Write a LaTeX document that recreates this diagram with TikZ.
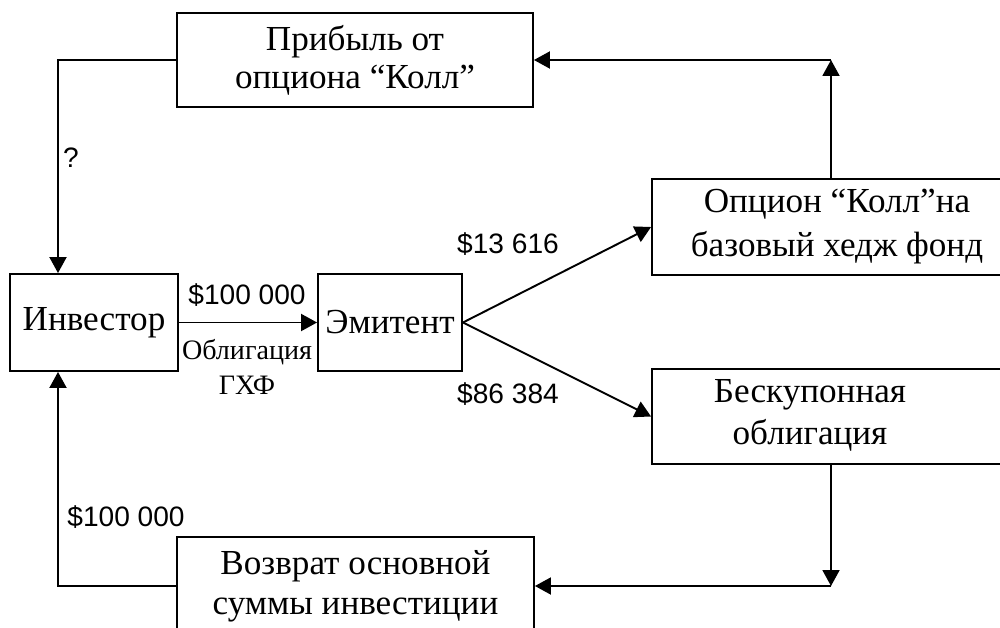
\documentclass[tikz,border=0pt]{standalone}
\usepackage{fontspec}
\setmainfont{Liberation Serif}
\newfontfamily\labelfont{Liberation Sans}
\usetikzlibrary{arrows.meta}
\begin{document}
\begin{tikzpicture}[x=0.02cm,y=-0.02cm,
  box/.style={draw, line width=1.1pt, inner sep=0pt, align=center, font=\fontsize{20}{21.5}\selectfont},
  conn/.style={line width=1.1pt},
  arr/.style={conn, -{Triangle[length=0.32cm,width=0.34cm]}},
  money/.style={font=\labelfont\fontsize{16}{19}\selectfont, inner sep=0pt},
  small/.style={font=\fontsize{16}{20}\selectfont, align=center, inner sep=0pt},
  boxtext/.style={align=center, inner sep=0pt, font=\fontsize{20}{24}\selectfont}]
\useasboundingbox (0,0) rectangle (1000,628);
\clip (0,0) rectangle (1000,628);
\fill[white] (0,0) rectangle (1000,628);
% boxes
\node[box, minimum width=7.12cm, minimum height=1.88cm] (profit) at (355,60) {Прибыль от\\опциона “Колл”};
\node[box, minimum width=3.36cm, minimum height=1.94cm] (inv) at (94,322.5) {Инвестор};
\node[box, minimum width=2.88cm, minimum height=1.94cm] (emit) at (390,322.5) {Эмитент};
\node[box, minimum width=7.4cm, minimum height=1.92cm, font=\fontsize{20}{25}\selectfont] (opc) at (837,227) {Опцион “Колл”на\\базовый хедж фонд};
\node[box, minimum width=7.4cm, minimum height=1.9cm] (besk) at (837,416.5) {};
\node[boxtext] (besktext) at (810,415) {Бескупонная\\облигация};
\node[box, minimum width=7.14cm, minimum height=1.96cm, font=\fontsize{20}{23}\selectfont] (ret) at (355.5,586) {Возврат основной\\суммы инвестиции};
% coordinates
\coordinate (tl) at (58,60);
\coordinate (tr) at (831,60);
\coordinate (bl) at (58,586);
\coordinate (br) at (831,586);
% connectors
\draw[arr] (profit.west) -- (tl) -- (tl |- inv.north);
\draw[arr] (opc.north -| tr) -- (tr);
\draw[arr] (tr) -- (profit.east);
\draw[arr] (inv.east) -- (emit.west);
\draw[arr] (emit.east) -- (opc.west);
\draw[arr] (emit.east) -- (besk.west);
\draw[arr] (besk.south -| br) -- (br);
\draw[arr] (br) -- (ret.east);
\draw[arr] (ret.west) -- (bl) -- (bl |- inv.south);
% labels
\node[money] (q) at (71,158) {?};
\node[money] (m1) at (247,295) {\$100 000};
\node[small] (bond) at (247,367) {Облигация\\ГХФ};
\node[money] (m2) at (508,244) {\$13 616};
\node[money] (m3) at (508,394) {\$86 384};
\node[money] (m4) at (126,517) {\$100 000};
\end{tikzpicture}
\end{document}
